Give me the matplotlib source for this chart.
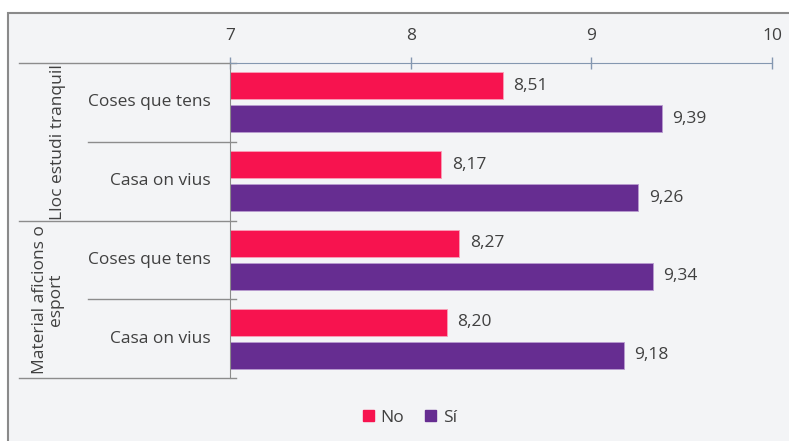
import matplotlib.pyplot as plt
from matplotlib.patches import Rectangle, Patch
import matplotlib.transforms as mtransforms

plt.rcParams['font.family'] = ['Open Sans', 'DejaVu Sans']

groups = ['Lloc estudi tranquil', 'Material aficions o\nesport']
items = ['Coses que tens', 'Casa on vius', 'Coses que tens', 'Casa on vius']
no_vals = [8.51, 8.17, 8.27, 8.20]
si_vals = [9.39, 9.26, 9.34, 9.18]
xticks = [7, 8, 9, 10]

pink = '#F7134F'
purple = '#662D91'
txt = '#404040'
line_col = '#8C8C8C'
fs = 12.5

W, H = 789, 441
fig = plt.figure(figsize=(W / 100, H / 100), dpi=100, facecolor='white')

# chart area background with grey frame (cropped at right and bottom)
fig.patches.append(Rectangle((8 / W, -0.1), 1.2, 1 - 13 / H + 0.1,
                             transform=fig.transFigure, facecolor='#F3F4F6',
                             edgecolor='#8A8A8A', linewidth=1.5, zorder=-5))

ax = fig.add_axes([230 / W, 1 - 378 / H, (772 - 230) / W, (378 - 63) / H])
ax.set_facecolor('none')
ax.set_zorder(2)

pos = [i + 0.5 for i in range(len(items))]
h = 0.345
ax.barh([p - 0.21 for p in pos], [v - 7 for v in no_vals], left=7, height=h,
        color=pink, edgecolor='#F9A0B8', linewidth=0.6, label='No')
ax.barh([p + 0.21 for p in pos], [v - 7 for v in si_vals], left=7, height=h,
        color=purple, edgecolor='#B89BD0', linewidth=0.6, label='Sí')

for p, v in zip(pos, no_vals):
    ax.annotate(f'{v:.2f}'.replace('.', ','), (v, p - 0.21), xytext=(7.5, 0),
                textcoords='offset points', va='center', ha='left', fontsize=fs, color=txt)
for p, v in zip(pos, si_vals):
    ax.annotate(f'{v:.2f}'.replace('.', ','), (v, p + 0.21), xytext=(7.5, 0),
                textcoords='offset points', va='center', ha='left', fontsize=fs, color=txt)

ax.set_xlim(7, 10)
ax.set_ylim(len(items), 0)
ax.xaxis.tick_top()
ax.set_xticks(xticks)
ax.set_xticklabels([str(t) for t in xticks])
ax.tick_params(axis='x', direction='inout', length=8, width=1, color='#8497B0',
               labelsize=fs, labelcolor=txt, pad=10)
ax.set_yticks([])
for s in ['bottom', 'right']:
    ax.spines[s].set_visible(False)
ax.spines['top'].set_color('#8497B0')
ax.spines['left'].set_color(line_col)

# category labels and divider lines on the left
trans = mtransforms.blended_transform_factory(fig.transFigure, ax.transData)
for p, name in zip(pos, items):
    ax.text(211 / W, p, name, transform=trans, ha='right', va='center',
            fontsize=fs, color=txt)
for y in [0, 2, 4]:
    ax.plot([19 / W, 236 / W], [y, y], transform=trans, color=line_col, lw=1, clip_on=False)
for y in [1, 3]:
    ax.plot([88 / W, 236 / W], [y, y], transform=trans, color=line_col, lw=1, clip_on=False)

ax.text(58 / W, 1, groups[0], transform=trans, rotation=90, ha='center', va='center',
        fontsize=fs, color=txt)
ax.text(48 / W, 3, groups[1], transform=trans, rotation=90, ha='center', va='center',
        fontsize=fs, color=txt, linespacing=1.0)

fig.legend(handles=[Patch(color=pink, label='No'), Patch(color=purple, label='Sí')],
           loc='center', bbox_to_anchor=(410 / W, 1 - 418 / H), ncol=2, frameon=False,
           fontsize=fs, handlelength=0.6, handleheight=0.6, handletextpad=0.4,
           columnspacing=1.2, labelcolor=txt)

fig.savefig('out.png', dpi=100, facecolor='white')
